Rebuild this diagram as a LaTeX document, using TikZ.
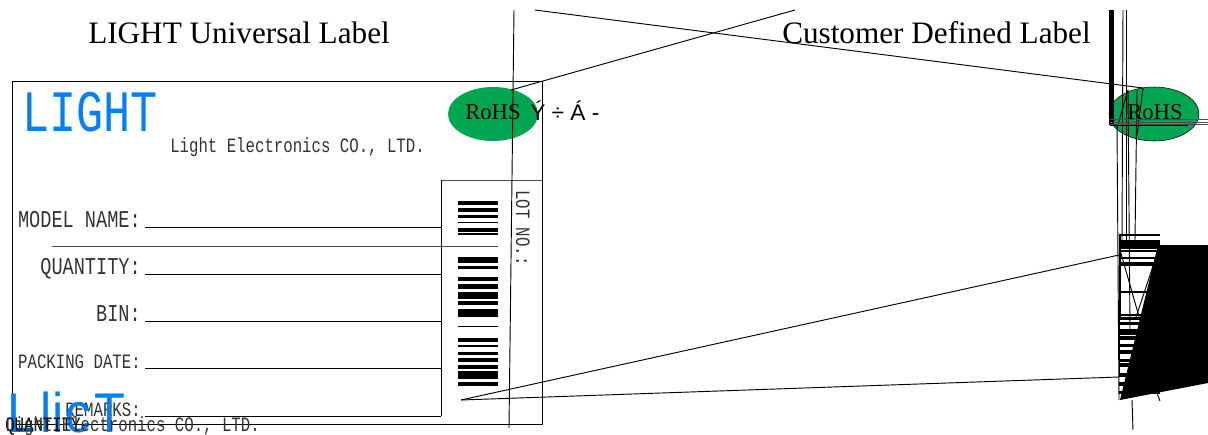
\documentclass[tikz,border=0pt]{standalone}
\usepackage{fontspec}
\setmainfont{Liberation Serif}
\newfontfamily\labelfont[FakeStretch=.77]{Liberation Mono}
\newfontfamily\logosans[FakeStretch=.9]{Liberation Sans}
\newfontfamily\markfont{Liberation Sans}
\definecolor{lightblue}{HTML}{0080FF}
\definecolor{rohsgreen}{HTML}{00A651}
\tikzset{
  title/.style={anchor=base west,inner sep=0pt,font=\fontsize{23.4}{25}\selectfont},
  big/.style={anchor=base east,inner sep=0pt,font=\labelfont\fontsize{18.1}{20}\selectfont,text=black!80},
  small/.style={anchor=base east,inner sep=0pt,font=\labelfont\fontsize{15.3}{18}\selectfont,text=black!80},
  logo/.style={anchor=base west,inner sep=0pt,font=\labelfont\fontsize{44}{46}\selectfont,text=lightblue},
  rohs/.style={ellipse,fill=rohsgreen,minimum width=45*1.5pt,minimum height=27*1.5pt,inner sep=0pt},
  rohstext/.style={anchor=base west,inner sep=0pt,font=\fontsize{17}{18}\selectfont},
  rule/.style={line width=.7pt},
  bar/.style={line cap=butt},
}
\usetikzlibrary{shapes.geometric}
\begin{document}
\begin{tikzpicture}[x=.75pt,y=-.75pt]
\useasboundingbox (0,0) rectangle (1208,435);
% titles
\node[title] (univ) at (88,44) {LIGHT Universal Label};
\node[title] (cust) at (782,44) {Customer Defined Label};
% label frame
\draw[rule] (12,81) rectangle (542,424);
\draw[rule,black!70] (441,180)--(542,180);
\draw[rule] (441,180)--(441,416);
\node[logo] (logo) at (22,132) {LIGHT};
\node[small,anchor=base west] (company) at (170,152) {Light Electronics CO., LTD.};
% fields
\foreach \name/\size/\y in {MODEL NAME:/big/227,QUANTITY:/big/274,BIN:/big/321,PACKING DATE:/small/368,REMARKS:/small/416}{
  \node[\size] at (141,\y) {\name};
  \draw[rule] (145,\y)--(441,\y);
}
\draw[rule,black!70] (52,246)--(498,246);
\node[small,rotate=-90,anchor=base west] (lot) at (516,190) {LOT NO.:};
% barcode
\foreach \y/\w in {203/4,210/3.5,216/3,222/1,230/4.5,234/2.5,259/4,262/1.5,267/3,279/4,286/5,295/7,303/3.5,311/3.5,315/3.5,326/.8,340/4,346/2.5,353/3,360/3.5,367/4.5,375/8,384/3.5}{
  \draw[bar,line width=\w*.75pt] (458,\y)--(498,\y);
}
% rohs marks
\node[rohs] (rohsa) at (493,114) {};
\node[rohs,draw=black] (rohsb) at (1154,114) {};
\node[rohstext] (rohstexta) at (465,120) {RoHS};
\node[anchor=base west,inner sep=0pt,font=\markfont\fontsize{17}{18}\selectfont] (mark) at (530,121) {Ý ÷ Á -};
\node[rohstext] (rohstextb) at (1127,120) {RoHS};
% bottom left
\foreach \c/\x in {L/7,l/40,i/52,c/65,T/94}{
  \node[anchor=base west,inner sep=0pt,font=\logosans\fontsize{42}{44}\selectfont,text=lightblue] at (\x,432) {\c};
}
\node[small,anchor=base west,text=black] (qty) at (5,431) {QUANTITY};
\node[small,anchor=base west] (companyb) at (5,431) {Light Electronics CO., LTD.};
% stray lines
\draw[rule] (514,10)--(509,428);
\draw[rule] (511,90)--(795,10);
\draw[rule] (535,10)--(1143,88);
\draw[rule] (461,400)--(1119,255);
\draw[rule] (461,400)--(1119,377);
% right hand stack
\draw[line width=3.4pt] (1111.7,10)--(1111.7,125);
\draw[rule] (1123,10)--(1122,240);
\draw[rule] (1126,10)--(1126,240);
\draw[rule] (1117,125)--(1119,400);
\draw[rule] (1128,90)--(1130,330);
\draw[rule] (1137,90)--(1135,240);
\draw[rule] (1143,88)--(1137,135);
\draw[rule] (1128,90)--(1117,128);
\draw[line width=1.5pt] (1110,125)--(1188,125);
\foreach \y in {119,122,124}{
  \draw[rule,black!70] (1110,\y)--(1208,\y);
}
\foreach \y/\w in {235/2.5,241/3,244/2,247/4,251/2,258/1.5,263/1.5,265/1.5,292/2,315/2,318/3,323/3,330/3,333/3,338/4,345/3,352/4,360/3,365/4,375/4,384/4,392/3}{
  \draw[bar,line width=\w*.75pt] (1119,\y)--(1160,\y);
}
\draw[line width=1.1pt] (1120,235)--(1120,320);
\draw[rule] (1120,250)--(1140,320);
\draw[rule] (1160,245)--(1135,320);
\fill (1158,245)--(1208,245)--(1208,383)--(1120,400)--cycle;
\draw[rule] (1119,315)--(1119,377);
\draw[rule] (1157,393)--(1160,401);
\draw[rule] (1132,400)--(1133,430);
\end{tikzpicture}
\end{document}
